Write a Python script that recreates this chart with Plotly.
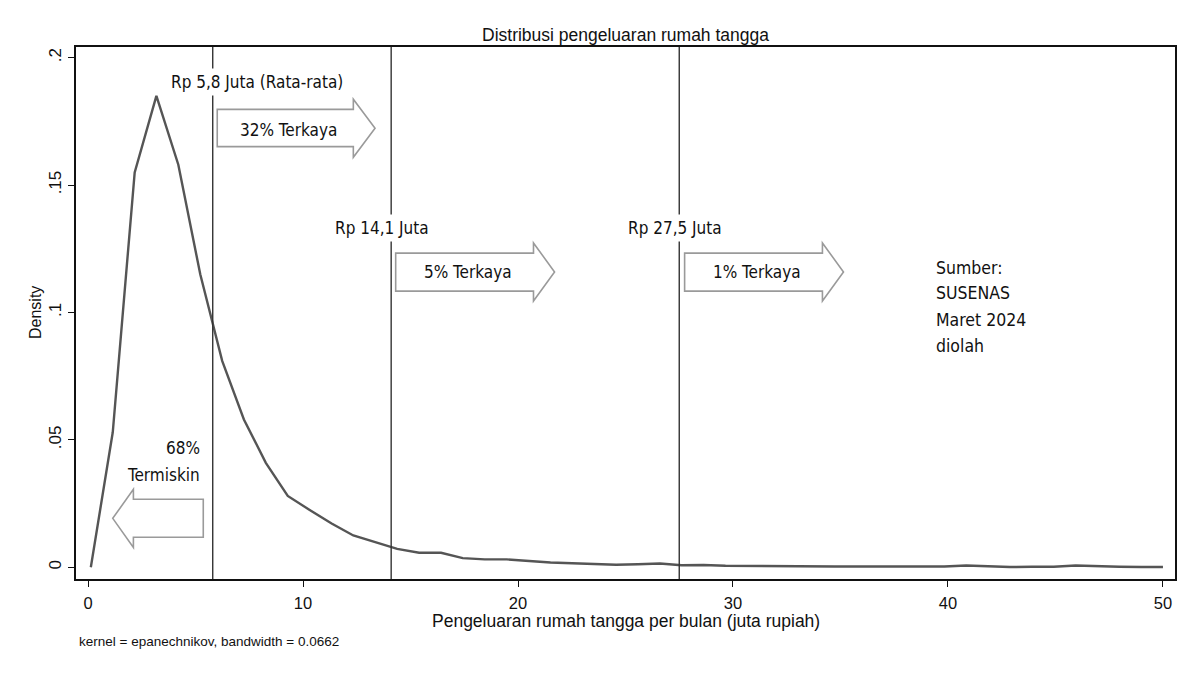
import plotly.graph_objects as go

# ---- data ----
pengeluaran = [0.13, 1.15, 2.17, 3.18, 4.20, 5.22, 6.24, 7.25, 8.27, 9.29,
               10.31, 11.33, 12.34, 13.36, 14.38, 15.40, 16.42, 17.43, 18.45, 19.47,
               20.49, 21.51, 22.52, 23.54, 24.56, 25.58, 26.60, 27.61, 28.63, 29.65,
               30.67, 31.69, 32.70, 33.72, 34.74, 35.76, 36.78, 37.79, 38.81, 39.83,
               40.85, 41.87, 42.88, 43.90, 44.92, 45.94, 46.96, 47.97, 48.99, 50.00]
density = [0.0, 0.053, 0.155, 0.185, 0.158, 0.115, 0.081, 0.058, 0.041, 0.028,
           0.0225, 0.0172, 0.0125, 0.0098, 0.0072, 0.0057, 0.0057, 0.0036, 0.0031, 0.0031,
           0.0025, 0.0019, 0.0016, 0.0013, 0.0010, 0.0012, 0.0015, 0.0008, 0.0009, 0.0006,
           0.0005, 0.0006, 0.0005, 0.0003, 0.0003, 0.0003, 0.0003, 0.0003, 0.0003, 0.0003,
           0.0007, 0.0003, 0.0001, 0.0002, 0.0002, 0.0007, 0.0004, 0.0002, 0.0001, 0.0001]

threshold_values = [5.8, 14.1, 27.5]
threshold_labels = ["Rp 5,8 Juta (Rata-rata)", "Rp 14,1 Juta", "Rp 27,5 Juta"]
group_labels = ["32% Terkaya", "5% Terkaya", "1% Terkaya"]

x_tickvals = [0, 10, 20, 30, 40, 50]
x_ticktext = ["0", "10", "20", "30", "40", "50"]
y_tickvals = [0, 0.05, 0.1, 0.15, 0.2]
y_ticktext = ["0", ".05", ".1", ".15", ".2"]

title_text = "Distribusi pengeluaran rumah tangga"
x_title = "Pengeluaran rumah tangga per bulan (juta rupiah)"
y_title = "Density"
note_text = "kernel = epanechnikov, bandwidth = 0.0662"
source_lines = ["Sumber:", "SUSENAS", "Maret 2024", "diolah"]

# ---- styling ----
COND = "Liberation Sans Narrow, DejaVu Sans Condensed, Arial Narrow, sans-serif"
ARIAL = "Liberation Sans, Arial, sans-serif"
TXT = "#111111"
ARROW_LINE = "#9a9a9a"
ANN_SIZE = 17

fig = go.Figure()

fig.add_trace(go.Scatter(x=pengeluaran, y=density, mode="lines",
                         line=dict(color="#555555", width=2.4),
                         showlegend=False, hoverinfo="skip"))

# vertical threshold lines
for v in threshold_values:
    fig.add_shape(type="line", xref="x", yref="paper", x0=v, x1=v, y0=0, y1=1,
                  line=dict(color="#333333", width=1.4), layer="above")


def right_arrow(x0, xh, xt, yb0, yb1, yh0, yh1, yc):
    return (f"M {x0},{yb0} L {xh},{yb0} L {xh},{yh0} L {xt},{yc} "
            f"L {xh},{yh1} L {xh},{yb1} L {x0},{yb1} Z")


arrow_paths = [
    right_arrow(6.01, 12.34, 13.35, 0.1651, 0.1797, 0.1609, 0.1837, 0.1723),
    right_arrow(14.31, 20.72, 21.70, 0.1084, 0.1233, 0.1045, 0.1273, 0.1159),
    right_arrow(27.75, 34.16, 35.14, 0.1084, 0.1233, 0.1045, 0.1273, 0.1159),
    right_arrow(5.36, 2.11, 1.15, 0.0118, 0.0267, 0.0078, 0.0306, 0.0192),
]
for p in arrow_paths:
    fig.add_shape(type="path", path=p, xref="x", yref="y",
                  line=dict(color=ARROW_LINE, width=1.6), fillcolor="white",
                  layer="above")

# threshold labels (white background hides the line behind)
label_pos = [(7.84, 0.1905), (13.67, 0.1332), (27.29, 0.1332)]
for (lx, ly), t in zip(label_pos, threshold_labels):
    fig.add_annotation(x=lx, y=ly, xref="x", yref="y", text=t, showarrow=False,
                       font=dict(family=COND, size=ANN_SIZE, color=TXT),
                       bgcolor="white", borderpad=3)

group_pos = [(9.34, 0.1718), (17.67, 0.1159), (31.12, 0.1159)]
for (gx, gy), t in zip(group_pos, group_labels):
    fig.add_annotation(x=gx, y=gy, xref="x", yref="y", text=t, showarrow=False,
                       font=dict(family=COND, size=ANN_SIZE, color=TXT))

fig.add_annotation(x=5.29, y=0.0467, xref="x", yref="y", text="68%", showarrow=False,
                   xanchor="right", font=dict(family=COND, size=ANN_SIZE, color=TXT))
fig.add_annotation(x=5.29, y=0.0362, xref="x", yref="y", text="Termiskin", showarrow=False,
                   xanchor="right", font=dict(family=COND, size=ANN_SIZE, color=TXT))

source_y = [0.1175, 0.1077, 0.0970, 0.0869]
for sy, t in zip(source_y, source_lines):
    fig.add_annotation(x=39.35, y=sy, xref="x", yref="y", text=t, showarrow=False,
                       xanchor="left", yanchor="middle",
                       font=dict(family=COND, size=ANN_SIZE + 0.5, color=TXT))

# titles
fig.add_annotation(x=0.5, y=1, xref="paper", yref="paper", text=title_text,
                   showarrow=False, yanchor="middle", yshift=12,
                   font=dict(family=ARIAL, size=17.5, color=TXT))
fig.add_annotation(x=0.5, y=0, xref="paper", yref="paper", text=x_title,
                   showarrow=False, yanchor="middle", yshift=-42,
                   font=dict(family=ARIAL, size=17.5, color=TXT))
fig.add_annotation(x=0, y=0.5, xref="paper", yref="paper", text=y_title,
                   showarrow=False, xanchor="center", xshift=-41, textangle=-90,
                   font=dict(family=ARIAL, size=16, color=TXT))
fig.add_annotation(x=0, y=0, xref="paper", yref="paper", text=note_text,
                   showarrow=False, xanchor="left", yanchor="middle", yshift=-62,
                   xshift=1, font=dict(family=ARIAL, size=13.5, color=TXT))

fig.update_xaxes(range=[-0.56, 50.56], tickvals=x_tickvals, ticktext=x_ticktext,
                 showgrid=False, zeroline=False, showline=True, mirror=True,
                 linecolor="#111111", linewidth=1.6, ticks="outside", ticklen=6,
                 tickcolor="#111111", tickwidth=1.2, ticklabelstandoff=2,
                 tickfont=dict(family=ARIAL, size=16.5, color=TXT))
fig.update_yaxes(range=[-0.0046, 0.2042], tickvals=y_tickvals, ticktext=y_ticktext,
                 showgrid=False, zeroline=False, showline=True, mirror=True,
                 linecolor="#111111", linewidth=1.6, ticks="outside", ticklen=6,
                 tickcolor="#111111", tickwidth=1.2, tickangle=-90,
                 tickfont=dict(family=ARIAL, size=17, color=TXT))

# page body keeps an 8px browser margin, so the figure is sized to fit inside it
fig.update_layout(width=1192, height=667, paper_bgcolor="white", plot_bgcolor="white",
                  margin=dict(l=68, r=25, t=39, b=96), showlegend=False)

fig.write_html("out.html")
